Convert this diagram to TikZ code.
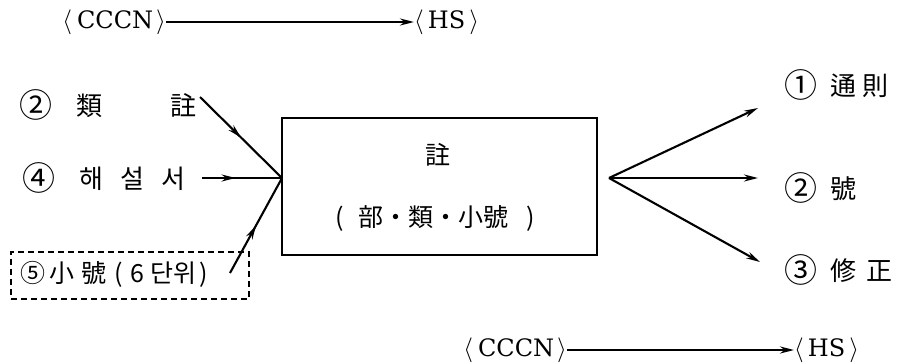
\documentclass[tikz,border=0pt]{standalone}
\usepackage{fontspec}
\setmainfont{DejaVu Serif}
\newfontfamily\kr{Noto Sans CJK KR}
\newcommand{\cnum}[1]{\makebox[23pt][l]{\raisebox{-2pt}{\fontsize{33}{33}\selectfont #1}}}
\usetikzlibrary{arrows.meta,decorations.markings}
\begin{document}
\begin{tikzpicture}[x=1pt,y=-1pt,
 lbl/.style={inner sep=0pt, font=\kr\fontsize{26}{26}\selectfont},
 box lbl/.style={inner sep=0pt, font=\kr\fontsize{25}{25}\selectfont},
 lat/.style={inner sep=0pt, font=\fontsize{24}{24}\selectfont},
 conn/.style={line width=2.1pt},
 tip/.style={-{Stealth[length=14pt,width=7pt]}},
 midarrow/.style={postaction={decorate},decoration={markings,mark=at position #1 with {\arrow{Stealth[length=14pt,width=7pt]}}}}
]
\useasboundingbox (0,0) rectangle (897,362);
% top and bottom
\node[lat, anchor=east] (cccn1) at (166,22) {$\langle$\hspace{5pt}CCCN\hspace{3pt}$\rangle$};
\node[lat, anchor=west] (hs1) at (414,22) {$\langle$\hspace{4pt}HS\hspace{4pt}$\rangle$};
\draw[conn,tip] (cccn1.east) -- (hs1.west);
\node[lat, anchor=east] (cccn2) at (567,350) {$\langle$\hspace{5pt}CCCN\hspace{3pt}$\rangle$};
\node[lat, anchor=west] (hs2) at (794,350) {$\langle$\hspace{4pt}HS\hspace{4pt}$\rangle$};
\draw[conn,tip] (cccn2.east) -- (hs2.west);
% main box
\node[draw, line width=2.2pt, minimum width=315pt, minimum height=137pt, inner sep=0pt] (box) at (439.5,186.5) {};
\node[box lbl] (t1) at (438,155) {註};
\node[box lbl] (t2) at (435,218) {(\hspace{14pt}部・類・小號\hspace{18pt})};
\coordinate (L) at (282,178);
\coordinate (R) at (609,178);
% left inputs
\node[lbl, anchor=west] (l2) at (19,105) {\cnum{②}\hspace{34pt}類\hspace{68pt}註};
\node[lbl, anchor=west] (l4) at (22,178) {\cnum{④}\hspace{34pt}해\hspace{17pt}설\hspace{17pt}서};
\node[draw, dash pattern=on 6pt off 4pt, line width=1.6pt, minimum width=238pt, minimum height=47pt, inner sep=0pt, anchor=north west] (l5box) at (10,251) {};
\node[box lbl, anchor=west] (l5) at (20,274) {⑤\hspace{4pt}小\hspace{7pt}號\hspace{8pt}(\hspace{8pt}6\hspace{6pt}단위\hspace{3pt})};
\coordinate (s2) at (200,97);
\coordinate (s4) at (202,178);
\coordinate (s5) at (230,273);
\draw[conn, midarrow=0.5] (s2) -- (L);
\draw[conn, midarrow=0.42] (s4) -- (L);
\draw[conn, midarrow=0.5] (s5) -- (L);
% right outputs
\node[lbl, anchor=west] (r1) at (784,85) {\cnum{①}\hspace{23pt}通\hspace{6pt}則};
\node[lbl, anchor=west] (r2) at (784,188) {\cnum{②}\hspace{23pt}號};
\node[lbl, anchor=west] (r3) at (784,270) {\cnum{③}\hspace{23pt}修\hspace{10pt}正};
\coordinate (e1) at (758,108);
\coordinate (e2) at (758,178);
\coordinate (e3) at (760,262);
\draw[conn,tip] (R) -- (e1);
\draw[conn,tip] (R) -- (e2);
\draw[conn,tip] (R) -- (e3);
\end{tikzpicture}
\end{document}
